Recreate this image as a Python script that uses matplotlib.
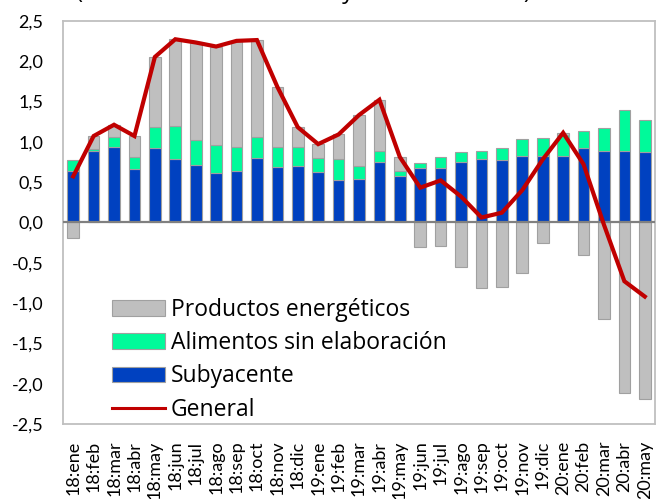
import matplotlib
matplotlib.use("Agg")
import matplotlib.pyplot as plt
import numpy as np
from matplotlib.patches import Patch
from matplotlib.lines import Line2D

plt.rcParams['font.family'] = ['Lato', 'DejaVu Sans']

months = ["18:ene", "18:feb", "18:mar", "18:abr", "18:may", "18:jun", "18:jul", "18:ago",
          "18:sep", "18:oct", "18:nov", "18:dic", "19:ene", "19:feb", "19:mar", "19:abr",
          "19:may", "19:jun", "19:jul", "19:ago", "19:sep", "19:oct", "19:nov", "19:dic",
          "20:ene", "20:feb", "20:mar", "20:abr", "20:may"]

subyacente = [0.64, 0.88, 0.93, 0.66, 0.92, 0.79, 0.71, 0.61, 0.64, 0.80, 0.69, 0.70, 0.62, 0.52,
              0.54, 0.75, 0.57, 0.68, 0.68, 0.75, 0.78, 0.77, 0.82, 0.82, 0.82, 0.92, 0.88, 0.89, 0.87]
alimentos = [0.13, 0.03, 0.13, 0.15, 0.26, 0.40, 0.31, 0.35, 0.29, 0.26, 0.25, 0.24, 0.18, 0.26,
             0.16, 0.14, 0.07, 0.05, 0.13, 0.12, 0.10, 0.15, 0.21, 0.22, 0.26, 0.21, 0.29, 0.50, 0.40]
energeticos = [-0.20, 0.16, 0.15, 0.26, 0.87, 1.08, 1.21, 1.22, 1.32, 1.20, 0.74, 0.24, 0.17, 0.31,
               0.63, 0.63, 0.17, -0.30, -0.29, -0.55, -0.82, -0.80, -0.63, -0.26, 0.03, -0.41,
               -1.20, -2.12, -2.19]
general = [0.57, 1.07, 1.21, 1.07, 2.05, 2.27, 2.23, 2.18, 2.25, 2.26, 1.68, 1.18, 0.97, 1.09,
           1.33, 1.52, 0.81, 0.43, 0.52, 0.32, 0.06, 0.12, 0.40, 0.78, 1.11, 0.72, -0.03, -0.73, -0.92]

yticks = [2.5, 2.0, 1.5, 1.0, 0.5, 0.0, -0.5, -1.0, -1.5, -2.0, -2.5]
ytick_labels = ["2,5", "2,0", "1,5", "1,0", "0,5", "0,0", "-0,5", "-1,0", "-1,5", "-2,0", "-2,5"]

c_sub = "#0041C0"
c_ali = "#00FA9A"
c_ene = "#BFBFBF"
c_gen = "#C00000"
edge = "#A0A0A0"

fig = plt.figure(figsize=(6.57, 4.99), dpi=100)
ax = fig.add_axes([63 / 657, 1 - 424 / 499, (655 - 63) / 657, (424 - 20.7) / 499])

x = np.arange(len(months))
w = 0.57
pos = np.zeros(len(months))
neg = np.zeros(len(months))
for vals, col in [(subyacente, c_sub), (alimentos, c_ali), (energeticos, c_ene)]:
    v = np.array(vals)
    bottom = np.where(v >= 0, pos, neg)
    ax.bar(x, v, w, bottom=bottom, color=col, edgecolor=edge, linewidth=0.8, zorder=2)
    pos = pos + np.where(v >= 0, v, 0)
    neg = neg + np.where(v < 0, v, 0)

ax.axhline(0, color="#808080", lw=1.6, zorder=3)
ax.plot(x, general, color=c_gen, lw=3.0, zorder=4, solid_joinstyle='miter')

ax.set_xlim(-0.5, len(months) - 0.5)
ax.set_ylim(-2.5, 2.5)
ax.set_yticks(yticks)
ax.set_yticklabels(ytick_labels)
ax.set_xticks(x)
ax.set_xticklabels(months, rotation=90, va='top', ha='center')
ax.tick_params(axis='y', length=0, pad=14, labelsize=13)
ax.tick_params(axis='x', length=0, pad=12, labelsize=13)
for s in ax.spines.values():
    s.set_color("#BFBFBF")
    s.set_linewidth(1.3)

handles = [Patch(facecolor=c_ene, edgecolor=edge, linewidth=0.8),
           Patch(facecolor=c_ali, edgecolor=edge, linewidth=0.8),
           Patch(facecolor=c_sub, edgecolor=edge, linewidth=0.8),
           Line2D([0], [0], color=c_gen, lw=2.2)]
labels = ["Productos energéticos", "Alimentos sin elaboración", "Subyacente", "General"]
fig.legend(handles, labels, loc='upper left', bbox_to_anchor=(112 / 657, 1 - 298 / 499),
           frameon=False, prop={'family': ['Open Sans', 'DejaVu Sans'], 'size': 16.5},
           handlelength=2.3, handleheight=0.65,
           handletextpad=0.27, labelspacing=0.40, borderpad=0, borderaxespad=0)

fig.text(303 / 657, 1 + 2 / 499, "(tasa de variación anual y contribuciones)",
         ha='center', va='baseline', fontsize=17,
         family=['Open Sans', 'DejaVu Sans'])

fig.savefig("out.png", dpi=100)
